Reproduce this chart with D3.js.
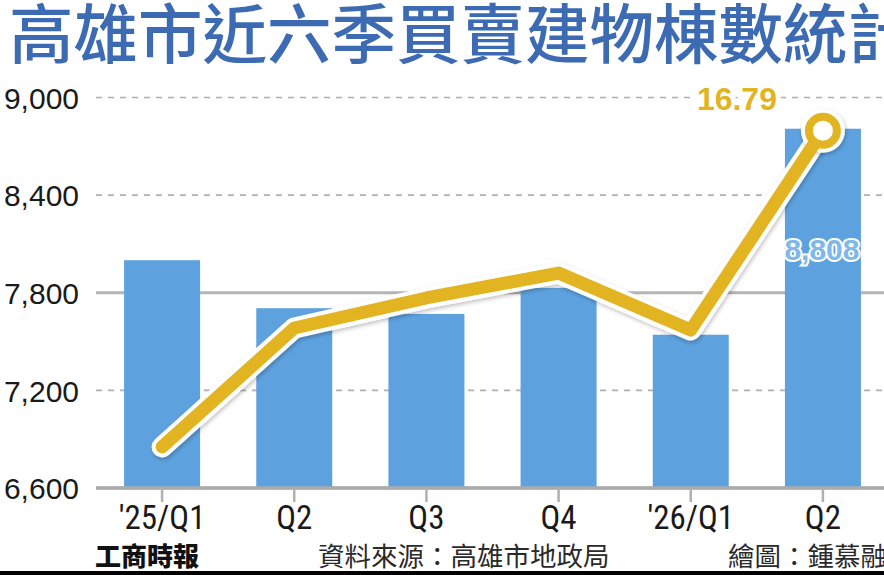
<!DOCTYPE html>
<html>
<head>
<meta charset="utf-8">
<script src="https://cdn.jsdelivr.net/npm/d3@7"></script>
<style>
html,body{margin:0;padding:0;background:#fff;overflow:hidden;}
svg{display:block;}
</style>
</head>
<body>
<svg id="chart" width="884" height="575"></svg>
<script>
// ---- data ----
const title = "高雄市近六季買賣建物棟數統計";
const categories = ["'25/Q1", "Q2", "Q3", "Q4", "'26/Q1", "Q2 "];
const buildings = [8000, 7705, 7670, 7830, 7542, 8808];     // 買賣建物棟數 (bars)
const growth = [-8.18, 1.21, 3.58, 5.55, 1.05, 16.79];      // 成長率 % (line, no axis)
const yTicks = [6600, 7200, 7800, 8400, 9000];
const barLabel = "8,808";
const lineLabel = "16.79";
const sourceText = "資料來源：高雄市地政局";
const paperText = "工商時報";
const artistText = "繪圖：鍾慕融";

// ---- layout ----
const svg = d3.select("#chart");
const W = 884, H = 575;
const plotLeft = 96, plotRight = 889;
const y = d3.scaleLinear().domain([6600, 9000]).range([488, 97.5]);
const y2 = d3.scaleLinear().domain([-10, 20]).range([470, 90]);
const x = d3.scaleBand().domain(categories).range([plotLeft, plotRight]).paddingInner(0.425).paddingOuter(0.2125);

// title
svg.append("text")
  .attr("x", 9).attr("y", 58)
  .attr("font-family", "'Noto Sans CJK TC','Noto Sans CJK SC',sans-serif")
  .attr("font-weight", 500)
  .attr("font-size", 64.5)
  .attr("fill", "#3d6bb3")
  .text(title);

// gridlines
const grid = svg.append("g");
yTicks.forEach(t => {
  const solid = (t === 7800 || t === 6600);
  grid.append("line")
    .attr("x1", plotLeft).attr("x2", W)
    .attr("y1", y(t)).attr("y2", y(t))
    .attr("stroke", solid ? "#b5b5b5" : "#b0b0b0")
    .attr("stroke-width", solid ? 3 : 1.6)
    .attr("stroke-dasharray", solid ? null : "6,6");
});

// y axis labels
const yAxis = d3.axisLeft(y).tickValues(yTicks).tickFormat(d3.format(",")).tickSize(0).tickPadding(0);
const gy = svg.append("g").attr("transform", "translate(79,0)").call(yAxis);
gy.select(".domain").remove();
gy.selectAll("text")
  .attr("font-family", "'Liberation Sans',Arial,sans-serif")
  .attr("font-size", 30)
  .attr("fill", "#1a1a1a")
  .attr("dy", "0.36em");

// bars
svg.append("g").selectAll("rect").data(buildings).join("rect")
  .attr("x", (d, i) => x(categories[i]))
  .attr("width", x.bandwidth())
  .attr("y", d => y(d))
  .attr("height", d => y(6600) - y(d))
  .attr("fill", "#5da2df");

// baseline
svg.append("line")
  .attr("x1", plotLeft).attr("x2", W)
  .attr("y1", y(6600)).attr("y2", y(6600))
  .attr("stroke", "#ababab").attr("stroke-width", 3.5);

// x axis
const xAxis = d3.axisBottom(x).tickSize(14).tickPadding(6);
const gx = svg.append("g").attr("transform", `translate(0,${y(6600)})`).call(xAxis);
gx.select(".domain").remove();
gx.selectAll(".tick line").attr("stroke", "#b0b0b0").attr("stroke-width", 2.5);
gx.selectAll("text")
  .attr("font-family", "'Liberation Sans Narrow','Roboto Condensed','Liberation Sans',sans-serif")
  .attr("font-size", 33)
  .attr("fill", "#1a1a1a")
  .attr("y", 41)
  .attr("dy", 0)
  .text(d => d.trim());

// line
const cx = i => x(categories[i]) + x.bandwidth() / 2;
const lineGen = d3.line().x((d, i) => cx(i)).y(d => y2(d));
const defs = svg.append("defs");
const f = defs.append("filter").attr("id", "sh").attr("x", "-10%").attr("y", "-10%").attr("width", "120%").attr("height", "120%");
f.append("feDropShadow").attr("dx", 1).attr("dy", 2).attr("stdDeviation", 2).attr("flood-color", "#000").attr("flood-opacity", 0.25);

const lg = svg.append("g");
lg.append("path").datum(growth).attr("d", lineGen)
  .attr("fill", "none").attr("stroke", "#fff").attr("stroke-width", 21)
  .attr("stroke-linejoin", "round").attr("stroke-linecap", "round")
  .attr("filter", "url(#sh)");
const last = growth.length - 1;
lg.append("circle").attr("cx", cx(last)).attr("cy", y2(growth[last])).attr("r", 22)
  .attr("fill", "#fff").attr("filter", "url(#sh)");
lg.append("path").datum(growth).attr("d", lineGen)
  .attr("fill", "none").attr("stroke", "#e2b421").attr("stroke-width", 13)
  .attr("stroke-linejoin", "round").attr("stroke-linecap", "round");
lg.append("circle").attr("cx", cx(last)).attr("cy", y2(growth[last])).attr("r", 14)
  .attr("fill", "#fff").attr("stroke", "#e2b421").attr("stroke-width", 8);

// value labels
svg.append("text")
  .attr("x", cx(last) - 86).attr("y", 110)
  .attr("text-anchor", "middle")
  .attr("font-family", "'Liberation Sans',Arial,sans-serif")
  .attr("font-weight", 700).attr("font-size", 32)
  .attr("fill", "#e2b421")
  .attr("stroke", "#fff").attr("stroke-width", 10).attr("paint-order", "stroke")
  .text(lineLabel);

svg.append("text")
  .attr("x", cx(last) - 1).attr("y", 260)
  .attr("text-anchor", "middle")
  .attr("font-family", "'Liberation Sans',Arial,sans-serif")
  .attr("font-weight", 700).attr("font-size", 30)
  .attr("fill", "#7fb9e8")
  .attr("stroke", "#fff").attr("stroke-width", 4).attr("paint-order", "stroke")
  .text(barLabel);

// footer
svg.append("text")
  .attr("x", 95).attr("y", 566)
  .attr("font-family", "'Noto Sans CJK TC',sans-serif")
  .attr("font-weight", 900).attr("font-size", 26)
  .attr("fill", "#111")
  .text(paperText);
svg.append("text")
  .attr("x", 318).attr("y", 566)
  .attr("font-family", "'Noto Sans CJK TC',sans-serif")
  .attr("font-weight", 400).attr("font-size", 26.5)
  .attr("fill", "#2a2a2a")
  .text(sourceText);
svg.append("text")
  .attr("x", 728).attr("y", 566)
  .attr("font-family", "'Noto Sans CJK TC',sans-serif")
  .attr("font-weight", 400).attr("font-size", 26.5)
  .attr("fill", "#2a2a2a")
  .text(artistText);

svg.append("rect").attr("x", 0).attr("y", 571).attr("width", W).attr("height", 4).attr("fill", "#000");
</script>
</body>
</html>
